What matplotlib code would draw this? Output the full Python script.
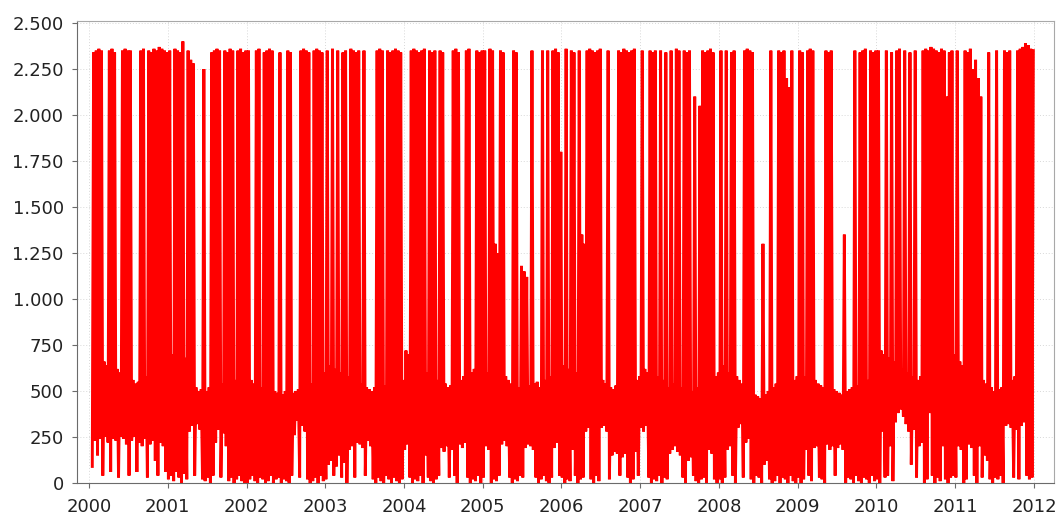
import matplotlib
matplotlib.use("Agg")
import matplotlib.pyplot as plt
import numpy as np
from matplotlib.ticker import FuncFormatter, MultipleLocator

nan = np.nan

# values: per year, 30 bins, peak and trough of each bin
hi_2000 = [nan, 2340, 2350, 2360, 2350, 660, 640, 2350, 2360, 2340, 620, 600, 2350, 2360, 2350,
           2350, 560, 540, 550, 2350, 2360, 580, 2350, 2340, 2360, 2350, 2370, 2360, 2350, 2340]
lo_2000 = [nan, 90, 230, 150, 240, 40, 250, 220, 60, 240, 230, 30, 250, 240, 210,
           40, 230, 250, 60, 220, 200, 240, 30, 210, 230, 120, 40, 220, 200, 60]

hi_2001 = [2350, 700, 2360, 2350, 2340, 2400, 680, 2350, 2300, 2280, 520, 500, 510, 2250, 500,
           520, 2340, 2350, 2360, 2350, 540, 2350, 2340, 2360, 2350, 560, 2350, 2360, 2340, 2350]
lo_2001 = [20, 40, 10, 60, 30, 0, 50, 20, 280, 310, 40, 320, 290, 20, 10,
           30, 0, 40, 220, 290, 30, 270, 200, 10, 30, 0, 20, 40, 10, 0]

hi_2002 = [2350, 560, 540, 2350, 2360, 520, 2340, 2350, 2360, 2350, 500, 490, 2340, 480, 500,
           2350, 2340, 490, 500, 510, 2350, 2360, 2350, 2340, 540, 2350, 2360, 2350, 2340, 600]
lo_2002 = [0, 20, 40, 10, 0, 30, 20, 0, 10, 40, 0, 20, 30, 0, 20,
           10, 0, 40, 260, 340, 30, 310, 280, 20, 0, 10, 30, 0, 40, 10]

hi_2003 = [2350, 640, 2360, 620, 2350, 600, 2340, 2350, 580, 2360, 2350, 2340, 2350, 540, 2350,
           520, 510, 500, 520, 2350, 2360, 2350, 530, 2350, 2340, 2350, 2360, 2350, 2340, 560]
lo_2003 = [20, 100, 120, 40, 90, 150, 30, 110, 0, 180, 200, 30, 220, 210, 190,
           40, 230, 200, 20, 0, 30, 10, 0, 40, 20, 0, 30, 10, 0, 20]

hi_2004 = [720, 700, 2350, 2360, 2350, 2340, 2350, 2360, 600, 2350, 2340, 2350, 560, 2350, 2340,
           540, 520, 530, 2350, 2360, 2340, 560, 580, 2350, 2360, 600, 620, 2350, 2340, 2350]
lo_2004 = [180, 210, 30, 0, 20, 10, 40, 0, 150, 30, 10, 0, 20, 40, 190,
           170, 200, 30, 180, 40, 0, 210, 190, 220, 30, 0, 20, 10, 40, 0]

hi_2005 = [2350, 600, 2360, 2350, 1300, 1250, 2350, 2340, 580, 560, 540, 2350, 2340, 520, 1180,
           1150, 1120, 530, 2350, 540, 550, 520, 2350, 560, 2350, 580, 2350, 2360, 2340, 1800]
lo_2005 = [30, 200, 180, 0, 20, 10, 40, 210, 230, 200, 30, 0, 20, 10, 40,
           30, 190, 210, 200, 180, 30, 0, 20, 40, 10, 0, 30, 190, 220, 40]

hi_2006 = [640, 2360, 620, 2350, 2340, 600, 2350, 1350, 1300, 2350, 2360, 2350, 2340, 2350, 2360,
           560, 540, 2350, 520, 510, 530, 2350, 2340, 2360, 2350, 2340, 2350, 2360, 560, 580]
lo_2006 = [30, 0, 20, 10, 180, 40, 0, 20, 30, 280, 300, 20, 0, 40, 10,
           300, 310, 280, 20, 150, 170, 160, 40, 140, 160, 30, 0, 20, 170, 40]

hi_2007 = [2350, 620, 600, 2350, 2340, 2350, 580, 2350, 560, 2340, 520, 2350, 540, 2360, 2350,
           520, 2350, 2340, 2350, 500, 2100, 520, 2050, 2350, 2340, 2350, 2360, 2340, 580, 600]
lo_2007 = [300, 280, 310, 30, 0, 20, 10, 40, 0, 30, 20, 160, 180, 200, 170,
           150, 30, 0, 120, 140, 40, 10, 0, 20, 30, 0, 180, 160, 20, 0]

hi_2008 = [2350, 640, 2350, 600, 2340, 2350, 580, 560, 540, 2350, 2360, 2350, 2340, 480, 470,
           460, 1300, 480, 500, 2350, 520, 540, 2350, 2340, 2350, 2200, 2150, 2350, 560, 580]
lo_2008 = [20, 0, 30, 180, 200, 40, 0, 300, 320, 30, 220, 240, 20, 0, 40,
           30, 0, 100, 120, 20, 0, 10, 40, 0, 30, 20, 0, 40, 10, 0]

hi_2009 = [2350, 2340, 580, 2350, 2360, 2350, 560, 540, 530, 520, 2350, 2340, 2350, 510, 500,
           490, 480, 1350, 500, 510, 520, 2350, 530, 2340, 2350, 2360, 560, 2350, 2340, 2350]
lo_2009 = [30, 0, 20, 180, 40, 10, 190, 200, 30, 20, 0, 210, 180, 200, 40,
           190, 210, 180, 0, 30, 20, 0, 40, 10, 0, 30, 20, 0, 40, 10]

hi_2010 = [2350, 720, 700, 2350, 680, 2340, 660, 2350, 2360, 620, 2350, 600, 2340, 580, 2350,
           560, 580, 2350, 2360, 2350, 2370, 2360, 2350, 2340, 2360, 2350, 2100, 2340, 2350, 700]
lo_2010 = [20, 0, 280, 30, 40, 200, 10, 330, 380, 400, 360, 320, 280, 100, 290,
           30, 200, 220, 0, 20, 380, 40, 0, 30, 10, 200, 20, 0, 30, 40]

hi_2011 = [2350, 660, 640, 2350, 2340, 2360, 2250, 2300, 2200, 2100, 560, 540, 2340, 520, 500,
           2350, 510, 520, 2350, 2340, 2350, 560, 580, 2350, 2360, 2370, 2390, 2380, 2360, 2350]
lo_2011 = [30, 200, 180, 0, 20, 210, 190, 40, 0, 200, 30, 150, 120, 20, 0,
           30, 20, 40, 0, 310, 320, 300, 30, 290, 20, 310, 330, 40, 20, 30]

years = list(range(2000, 2012))
peaks = [hi_2000, hi_2001, hi_2002, hi_2003, hi_2004, hi_2005,
         hi_2006, hi_2007, hi_2008, hi_2009, hi_2010, hi_2011]
troughs = [lo_2000, lo_2001, lo_2002, lo_2003, lo_2004, lo_2005,
           lo_2006, lo_2007, lo_2008, lo_2009, lo_2010, lo_2011]
year_ticks = list(range(2000, 2013))

# build the series: trough then peak in each bin
t = []
v = []
for year, hi, lo in zip(years, peaks, troughs):
    n = len(hi)
    for i in range(n):
        t += [year + (i + 0.25) / n, year + (i + 0.75) / n]
        v += [lo[i], hi[i]]


def dotted_thousands(x, pos):
    return "{:,}".format(int(round(x))).replace(",", ".")


fig = plt.figure(figsize=(10.64, 5.17), dpi=100)
ax = fig.add_axes([0.0724, 0.0658, 0.9182, 0.8936])

ax.plot(t, v, color="#ff0000", linewidth=2.1, solid_joinstyle="miter")

ax.set_xlim(1999.848, 2012.254)
ax.set_ylim(0, 2511)
ax.set_xticks(year_ticks)
ax.set_xticklabels([str(y) for y in year_ticks])
ax.yaxis.set_major_locator(MultipleLocator(250))
ax.yaxis.set_major_formatter(FuncFormatter(dotted_thousands))

ax.grid(True, color="#d8d8d8", linestyle=(0, (1, 2)), linewidth=0.7)
ax.set_axisbelow(True)

for side in ["left", "bottom"]:
    ax.spines[side].set_color("#6b6b6b")
for side in ["top", "right"]:
    ax.spines[side].set_color("#a8a8a8")

ax.tick_params(axis="both", direction="out", length=3.6, color="#6b6b6b",
               labelsize=13, labelcolor="#222222")
ax.tick_params(axis="y", pad=6)
ax.tick_params(axis="x", pad=7.5)

fig.savefig("out.png", dpi=100)
